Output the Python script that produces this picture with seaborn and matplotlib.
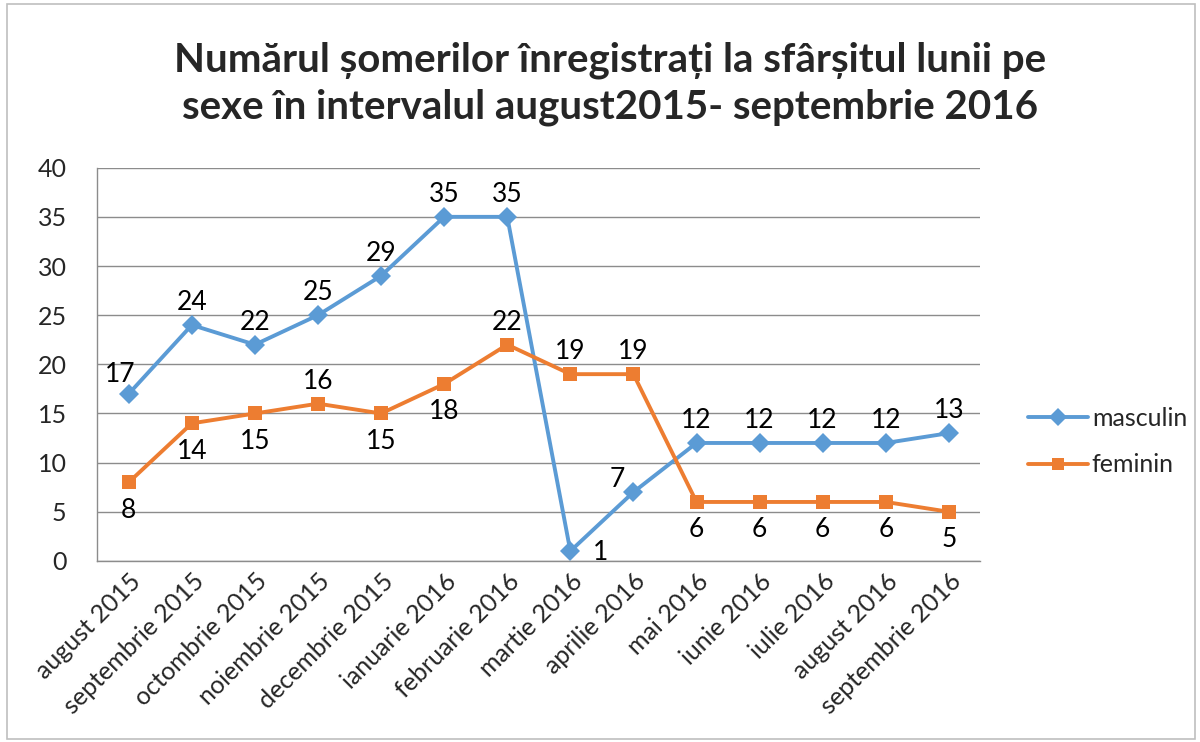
import numpy as np
import pandas as pd
import matplotlib
matplotlib.use("Agg")
import matplotlib.pyplot as plt
import seaborn as sns

months = ["august 2015", "septembrie 2015", "octombrie 2015", "noiembrie 2015",
          "decembrie 2015", "ianuarie 2016", "februarie 2016", "martie 2016",
          "aprilie 2016", "mai 2016", "iunie 2016", "iulie 2016",
          "august 2016", "septembrie 2016"]
masculin = [17, 24, 22, 25, 29, 35, 35, 1, 7, 12, 12, 12, 12, 13]
feminin = [8, 14, 15, 16, 15, 18, 22, 19, 19, 6, 6, 6, 6, 5]

# where each data label sits relative to its point
pos_masc = ["ul", "a", "a", "a", "a", "a", "a", "r", "l7", "a", "a", "a", "a", "a"]
pos_fem = ["b", "b", "b", "a", "b", "b", "a", "a", "a", "b", "b", "b", "b", "b"]

df = pd.DataFrame({
    "idx": list(range(len(months))) * 2,
    "value": masculin + feminin,
    "serie": ["masculin"] * len(months) + ["feminin"] * len(months),
})

sns.set_theme(style="white")
plt.rcParams["font.family"] = ["Lato", "DejaVu Sans"]

blue = "#5B9BD5"
orange = "#ED7D31"

fig = plt.figure(figsize=(12, 7.42), dpi=100)
ax = fig.add_axes([0.081, 0.244, 0.736, 0.53])

sns.lineplot(data=df, x="idx", y="value", hue="serie", style="serie",
             palette={"masculin": blue, "feminin": orange},
             markers={"masculin": "D", "feminin": "s"},
             dashes=False, linewidth=2.8, markersize=10, markeredgewidth=0,
             ax=ax, legend=False)

ax.set_xlim(-0.5, len(months) - 0.5)
ax.set_ylim(0, 40)
ax.set_yticks(np.arange(0, 41, 5))
ax.yaxis.grid(True, color="#8c8c8c", linewidth=1)
ax.set_axisbelow(True)
ax.set_xticks(range(len(months)))
ax.set_xticklabels(months, rotation=45, ha="right", rotation_mode="anchor", fontsize=18)
ax.tick_params(axis="y", labelsize=18, pad=22, length=0)
ax.tick_params(axis="x", pad=6, length=0)
ax.set_xlabel("")
ax.set_ylabel("")
for s in ["top", "right"]:
    ax.spines[s].set_visible(False)
for s in ["left", "bottom"]:
    ax.spines[s].set_color("#8c8c8c")
    ax.spines[s].set_linewidth(1)

offsets = {"a": (0, 16), "b": (0, -20), "ul": (-6, 14),
           "r": (22, -1), "l7": (-12, 9)}
for vals, poss in [(masculin, pos_masc), (feminin, pos_fem)]:
    for i, (v, p) in enumerate(zip(vals, poss)):
        dx, dy = offsets[p]
        ax.annotate(str(v), (i, v), xytext=(dx, dy), textcoords="offset points",
                    ha="center", va="center", fontsize=19, color="black")

handles = [plt.Line2D([], [], color=blue, marker="D", markersize=9, linewidth=2.8,
                      markeredgewidth=0),
           plt.Line2D([], [], color=orange, marker="s", markersize=9, linewidth=2.8,
                      markeredgewidth=0)]
fig.legend(handles, ["masculin", "feminin"], loc="center left",
           bbox_to_anchor=(0.838, 0.405), frameon=False, fontsize=18,
           handlelength=2.4, handletextpad=0.15, labelspacing=0.95)

fig.text(0.508, 0.887, "Numărul șomerilor înregistrați la sfârșitul lunii pe\n"
         "sexe în intervalul august2015- septembrie 2016",
         ha="center", va="center", fontsize=29, fontweight="bold",
         linespacing=1.3)

fig.patches.append(plt.Rectangle((0.006, 0.004), 0.99, 0.99, transform=fig.transFigure,
                                 fill=False, edgecolor="#bfbfbf", linewidth=1.2))

fig.savefig("out.png", dpi=100, facecolor="white")
